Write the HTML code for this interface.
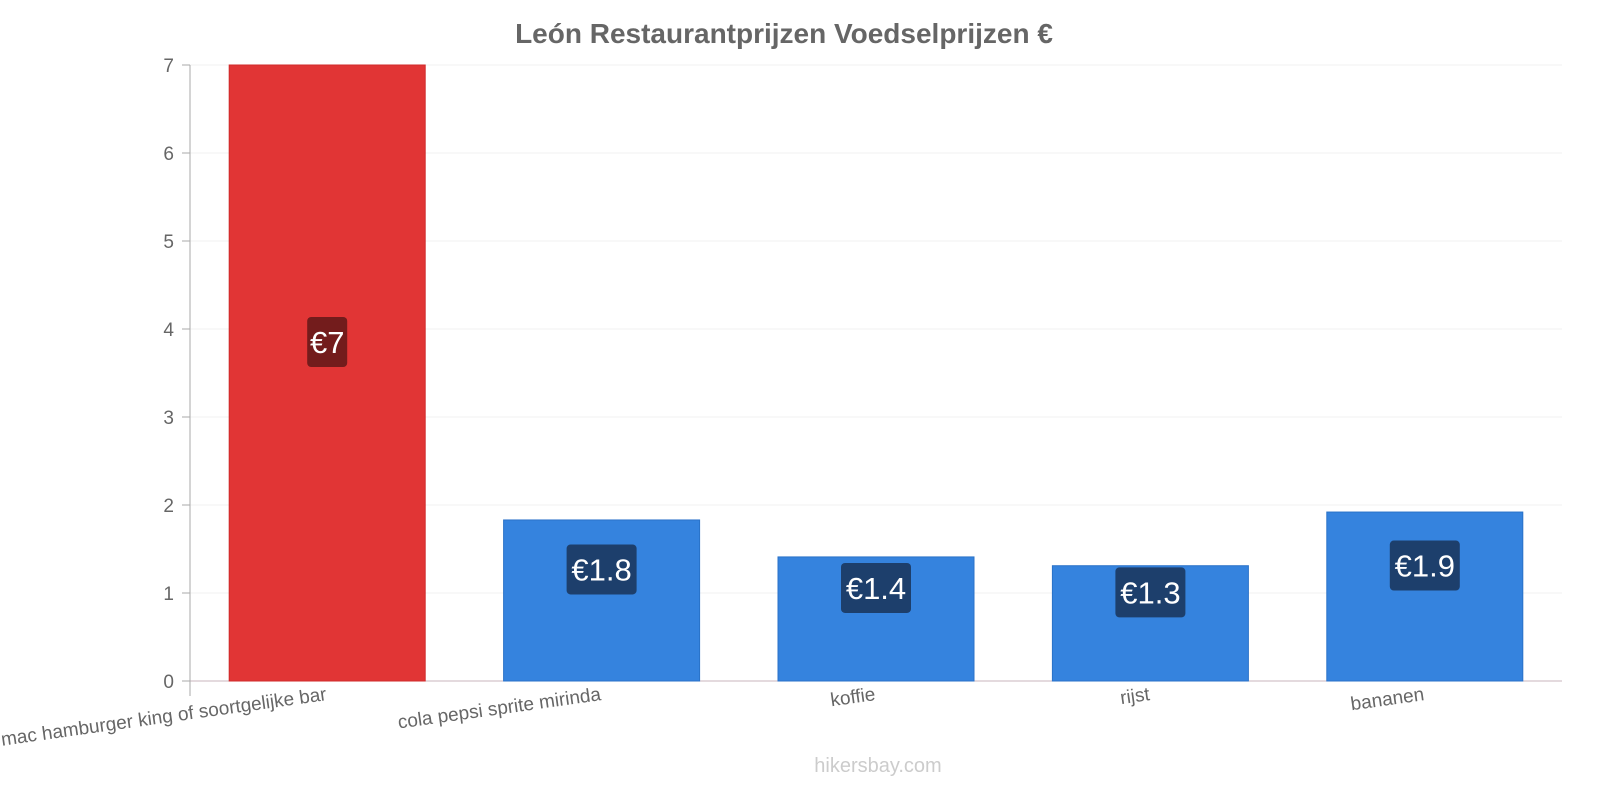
<!DOCTYPE html>
<html><head><meta charset="utf-8">
<style>
body{margin:0;background:#fff;width:1600px;height:800px;overflow:hidden;font-family:"Liberation Sans",sans-serif;}
</style></head><body>
<svg width="1600" height="800" xmlns="http://www.w3.org/2000/svg">
<text x="784" y="43" text-anchor="middle" font-size="28" font-weight="bold" fill="#666">León Restaurantprijzen Voedselprijzen €</text>
<g id="grid"></g>
<g id="bars"></g>
<g id="xlabels"></g>
<text x="878" y="772" text-anchor="middle" font-size="20" fill="#ccc">hikersbay.com</text>
</svg>
<script>
const categories=["mac hamburger king of soortgelijke bar","cola pepsi sprite mirinda","koffie","rijst","bananen"];
const values=[7,1.83,1.41,1.31,1.92];
const labels=["€7","€1.8","€1.4","€1.3","€1.9"];
const yTicks=[0,1,2,3,4,5,6,7];
const NS="http://www.w3.org/2000/svg";
const x0=190,x1=1562,y0=681,y1=65,yMax=7;
const y=v=>y0-(v/yMax)*(y0-y1);
const band=(x1-x0)/categories.length;
const xc=i=>x0+band*(i+0.5);
function mk(t,a,p){const e=document.createElementNS(NS,t);for(const k in a)e.setAttribute(k,a[k]);p.appendChild(e);return e;}
const g=document.getElementById('grid');
yTicks.forEach(t=>{
  const l=mk('line',{x1:x0,x2:x1,y1:y(t),y2:y(t),stroke:t===0?'#c8b4bc':'#f0f0f0','stroke-width':1},g);
  
  
  const tk=mk('line',{x1:x0-8,x2:x0,y1:y(t),y2:y(t),stroke:'#aaa'},g);
  
  
  const tx=mk('text',{x:x0-16,y:y(t)+7,'text-anchor':'end','font-size':19,fill:'#666'},g);
  tx.textContent=t;
  
  
});
const ax=mk('line',{x1:x0,x2:x0,y1:y1,y2:y0+15,stroke:'#aaa'},g);


const b=document.getElementById('bars');
const bw=196;
values.forEach((v,i)=>{
  const red=i===0;
  const r=mk('rect',{x:xc(i)-bw/2,y:y(v),width:bw,height:y0-y(v),fill:red?'#e13535':'#3583de',stroke:red?'#d02a2a':'#2a72c8'},b);
  
  
  const ly=(y(v)+y0)/2-31;
  const w=labels[i].length*15+10;
  const bx=mk('rect',{x:xc(i)-w/2,y:ly-25,width:w,height:50,rx:4,fill:red?'#731c1c':'#1d3f6c'},b);
  
  
  const t=mk('text',{x:xc(i),y:ly+11,'text-anchor':'middle','font-size':31,fill:'#fff'},b);
  t.textContent=labels[i];
  
  
});
const xl=document.getElementById('xlabels');
categories.forEach((c,i)=>{
  const t=mk('text',{x:xc(i),y:700,'text-anchor':'end','font-size':19,fill:'#666',transform:`rotate(-8 ${xc(i)} 700)`},xl);
  t.textContent=c;
  
  
});
</script>
</body></html>
